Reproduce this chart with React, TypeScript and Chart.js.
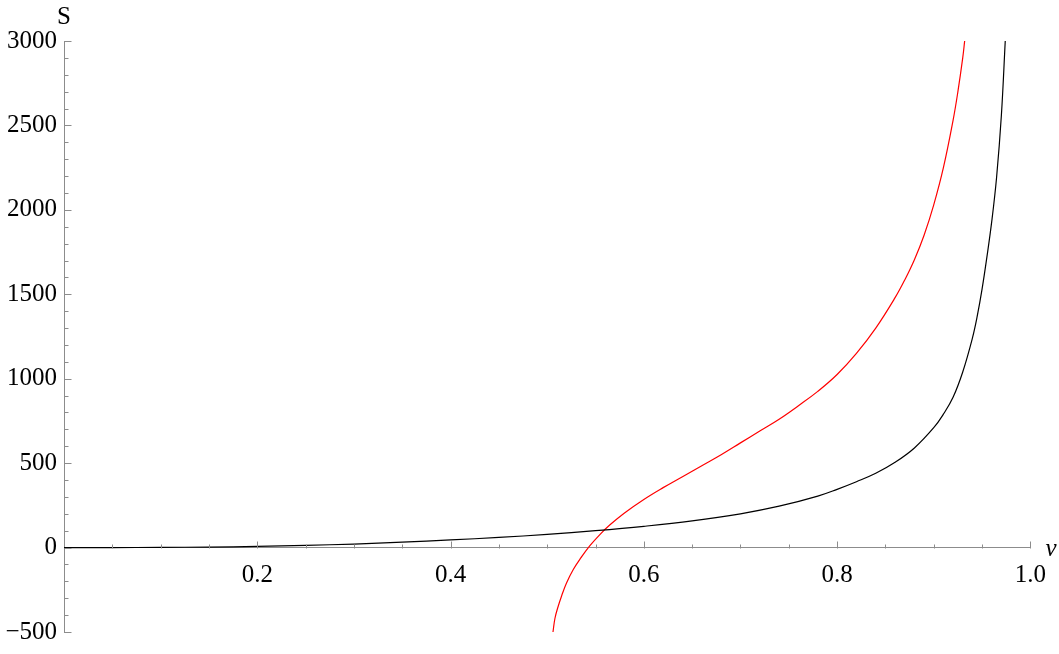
import { useEffect, useRef } from 'react';
import { Chart, registerables } from 'chart.js';

Chart.register(...registerables);

// ν values and S values
const blackNu = [0, 0.05, 0.1, 0.15, 0.2, 0.25, 0.3, 0.35, 0.4, 0.45, 0.5, 0.55, 0.6, 0.65, 0.7, 0.74, 0.78, 0.8, 0.82, 0.84, 0.86, 0.88, 0.9, 0.91, 0.92, 0.93, 0.94, 0.945, 0.95, 0.955, 0.96, 0.965, 0.97, 0.974];
const blackS = [0, 0.2, 1, 3, 7, 13, 21, 32, 45, 60, 78, 100, 126, 158, 200, 245, 305, 345, 390, 440, 505, 590, 710, 790, 890, 1040, 1240, 1370, 1530, 1720, 1930, 2190, 2560, 3000];

const redNu = [0.506, 0.508, 0.511, 0.515, 0.52, 0.527, 0.535, 0.544, 0.555, 0.565, 0.58, 0.6, 0.62, 0.64, 0.66, 0.68, 0.7, 0.72, 0.74, 0.76, 0.78, 0.8, 0.82, 0.84, 0.86, 0.87, 0.88, 0.89, 0.9, 0.91, 0.92, 0.925, 0.93, 0.932];
const redS = [-500, -420, -355, -285, -210, -130, -60, 10, 80, 135, 205, 285, 355, 420, 485, 550, 620, 690, 760, 840, 925, 1025, 1150, 1300, 1480, 1585, 1705, 1850, 2030, 2250, 2530, 2700, 2900, 3000];

const xMajorTicks = [0.2, 0.4, 0.6, 0.8, 1.0];
const xTickLabels = ['0.2', '0.4', '0.6', '0.8', '1.0'];
const yMajorTicks = [-500, 0, 500, 1000, 1500, 2000, 2500, 3000];
const yTickLabels = ['\u2212500', '0', '500', '1000', '1500', '2000', '2500', '3000'];
const xMinorStep = 0.05;
const yMinorStep = 100;
const xAxisTitle = 'ν';
const yAxisTitle = 'S';

const FONT = '"Liberation Serif", "Times New Roman", Times, serif';
const AXIS_COLOR = '#8c8c8c';

export default function App() {
  const canvasRef = useRef<HTMLCanvasElement | null>(null);

  useEffect(() => {
    const canvas = canvasRef.current;
    if (!canvas) return;
    let cancelled = false;

    const axisPlugin = {
      id: 'mmaAxes',
      afterDatasetsDraw(chart: any) {
        const { ctx } = chart;
        const xs = chart.scales.x;
        const ys = chart.scales.y;
        const x0 = xs.getPixelForValue(0);
        const y0 = ys.getPixelForValue(0);
        ctx.save();
        ctx.strokeStyle = AXIS_COLOR;
        ctx.lineWidth = 1;
        const nY = Math.round((3000 - -500) / yMinorStep);
        for (let i = 0; i <= nY; i++) {
          const v = -500 + i * yMinorStep;
          const py = Math.round(ys.getPixelForValue(v)) + 0.5;
          const len = v % 500 === 0 ? 7 : 4;
          ctx.beginPath();
          ctx.moveTo(Math.round(x0) + 0.5, py);
          ctx.lineTo(Math.round(x0) + 0.5 + len, py);
          ctx.stroke();
        }
        const nX = Math.round(1 / xMinorStep);
        for (let i = 1; i <= nX; i++) {
          const v = i * xMinorStep;
          const px = Math.round(xs.getPixelForValue(v)) + 0.5;
          const len = i % 4 === 0 ? 7 : 4;
          ctx.beginPath();
          ctx.moveTo(px, Math.round(y0) + 0.5);
          ctx.lineTo(px, Math.round(y0) + 0.5 - len);
          ctx.stroke();
        }
        ctx.fillStyle = '#000';
        ctx.font = `25px ${FONT}`;
        ctx.textAlign = 'center';
        ctx.textBaseline = 'alphabetic';
        ctx.fillText(yAxisTitle, x0, 24);
        ctx.font = `italic 25px ${FONT}`;
        ctx.textAlign = 'left';
        ctx.fillText(xAxisTitle, xs.getPixelForValue(1) + 15, y0 + 8);
        ctx.restore();
      },
    };

    const chart = new Chart(canvas, {
      type: 'line',
      data: {
        datasets: [
          {
            label: 'S black',
            data: blackNu.map((v, i) => ({ x: v, y: blackS[i] })),
            borderColor: '#000000',
            borderWidth: 1.2,
            pointRadius: 0,
            fill: false,
            tension: 0.4,
          },
          {
            label: 'S red',
            data: redNu.map((v, i) => ({ x: v, y: redS[i] })),
            borderColor: '#ff0000',
            borderWidth: 1.2,
            pointRadius: 0,
            fill: false,
            tension: 0.4,
          },
        ],
      },
      options: {
        responsive: false,
        animation: false,
        layout: { padding: { left: 0, right: 28, top: 41, bottom: 16 } },
        plugins: {
          legend: { display: false },
          tooltip: { enabled: false },
          title: { display: false },
        },
        scales: {
          x: {
            type: 'linear',
            min: 0,
            max: 1,
            position: { y: 0 } as any,
            afterBuildTicks: (s: any) => {
              s.ticks = xMajorTicks.map((v) => ({ value: v }));
            },
            ticks: {
              autoSkip: false,
              maxRotation: 0,
              padding: 13,
              color: '#000',
              font: { family: FONT, size: 25 },
              callback: (_v: any, i: number) => xTickLabels[i],
            },
            grid: { display: false, drawTicks: false },
            border: { display: true, color: AXIS_COLOR, width: 1 },
          },
          y: {
            type: 'linear',
            min: -500,
            max: 3000,
            position: 'left',
            afterBuildTicks: (s: any) => {
              s.ticks = yMajorTicks.map((v) => ({ value: v }));
            },
            afterFit: (s: any) => {
              s.width = 64;
            },
            ticks: {
              autoSkip: false,
              padding: 7,
              color: '#000',
              font: { family: FONT, size: 25 },
              callback: (_v: any, i: number) => yTickLabels[i],
            },
            grid: { display: false, drawTicks: false },
            border: { display: true, color: AXIS_COLOR, width: 1 },
          },
        },
      },
      plugins: [axisPlugin],
    } as any);

    const fonts = (document as any).fonts;
    if (fonts && fonts.load) {
      Promise.all([
        fonts.load(`25px "Liberation Serif"`),
        fonts.load(`italic 25px "Liberation Serif"`),
      ]).then(() => {
        if (!cancelled) chart.update();
      }, () => {});
    }

    return () => {
      cancelled = true;
      chart.destroy();
    };
  }, []);

  return (
    <div style={{ position: 'fixed', left: 0, top: 0, width: 1059, height: 654, background: '#fff' }}>
      <canvas ref={canvasRef} width={1059} height={654} style={{ display: 'block' }} />
    </div>
  );
}
